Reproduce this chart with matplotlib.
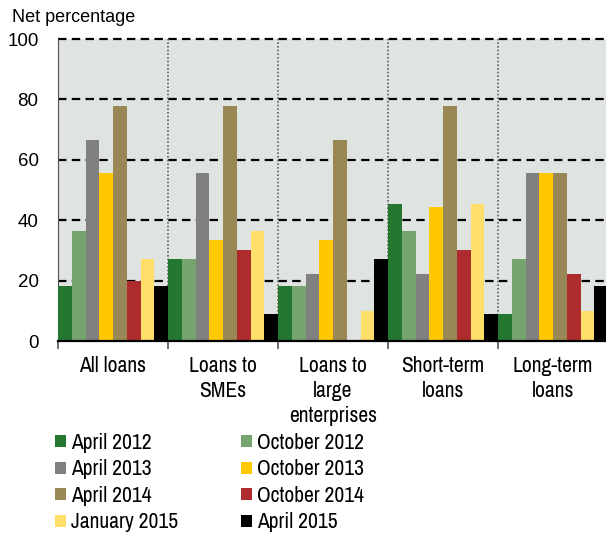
import matplotlib.pyplot as plt
import numpy as np

plt.rcParams['font.family'] = ['Liberation Sans', 'DejaVu Sans']
ANGOSTA = ['Liberation Sans Narrow', 'Arial Narrow', 'Archivo Narrow',
           'Roboto Condensed', 'Liberation Sans']

categorias = ['All loans', 'Loans to\nSMEs', 'Loans to\nlarge\nenterprises',
              'Short-term\nloans', 'Long-term\nloans']
encuestas = ['April 2012', 'October 2012', 'April 2013', 'October 2013',
             'April 2014', 'October 2014', 'January 2015', 'April 2015']
colores = ['#237730', '#76a46f', '#808080', '#ffc800',
           '#9a8756', '#ae2b2e', '#ffde6a', '#000000']

# porcentaje neto por encuesta, en el orden de las categorias
valores = {
    'April 2012':   [18.2, 27.3, 18.2, 45.5, 9.1],
    'October 2012': [36.4, 27.3, 18.2, 36.4, 27.3],
    'April 2013':   [66.7, 55.6, 22.2, 22.2, 55.6],
    'October 2013': [55.6, 33.3, 33.3, 44.4, 55.6],
    'April 2014':   [77.8, 77.8, 66.7, 77.8, 55.6],
    'October 2014': [20.0, 30.0, 0.0, 30.0, 22.2],
    'January 2015': [27.3, 36.4, 10.0, 45.5, 10.0],
    'April 2015':   [18.2, 9.1, 27.3, 9.1, 18.2],
}

fig = plt.figure(figsize=(6.06, 5.35), dpi=100)
ax = fig.add_axes([58 / 606, 1 - 341 / 535, 550 / 606, 302 / 535])
ax.set_facecolor('#e0e4e1')

n = len(encuestas)
ancho = 1 / n
x = np.arange(len(categorias))
barras = []
for i, (encuesta, color) in enumerate(zip(encuestas, colores)):
    b = ax.bar(x - 0.5 + ancho * (i + 0.5), valores[encuesta], width=ancho,
               color=color, label=encuesta, zorder=3)
    barras.append(b)

ax.set_xlim(-0.5, len(categorias) - 0.5)
ax.set_ylim(0, 100)

# lineas horizontales punteadas
for y in [20, 40, 60, 80, 100]:
    ax.axhline(y, color='black', lw=1.6, ls=(0, (3.8, 2.4)), zorder=2, clip_on=False)
# separadores entre categorias
for xs in x[:-1] + 0.5:
    ax.axvline(xs, color='#606060', lw=1.2, ls=(0, (1, 1.2)), zorder=2)

ax.set_yticks([0, 20, 40, 60, 80, 100])
ax.tick_params(axis='y', length=0, pad=14, labelsize=13.5)
ax.set_xticks(x)
ax.set_xticklabels(categorias, fontsize=15.5, linespacing=1.3, family=ANGOSTA)
ax.set_xticks(np.arange(len(categorias) + 1) - 0.5, minor=True)
ax.tick_params(axis='x', which='major', length=0, pad=11)
ax.tick_params(axis='x', which='minor', length=6, width=1.2, color='#555555')

for lado in ['top', 'right']:
    ax.spines[lado].set_visible(False)
ax.spines['left'].set_color('#505050')
ax.spines['left'].set_linewidth(0.8)
ax.spines['bottom'].set_color('black')
ax.spines['bottom'].set_linewidth(1.6)
ax.spines['bottom'].set_zorder(4)

fig.text(12 / 606, 1 - 17 / 535, 'Net percentage', fontsize=13, va='center', ha='left')

# leyenda en dos columnas, se lee por filas
opciones = dict(loc='upper left', frameon=False, handlelength=0.5, handleheight=0.5,
                handletextpad=0.25, labelspacing=0.3, borderaxespad=0, borderpad=0,
                prop={'family': ANGOSTA, 'size': 15.5})
for col, x0 in [([0, 2, 4, 6], 55), ([1, 3, 5, 7], 241)]:
    fig.legend([barras[i] for i in col], [encuestas[i] for i in col],
               bbox_to_anchor=(x0 / 606, 1 - 433 / 535), **opciones)

fig.savefig('out.png', dpi=100)
